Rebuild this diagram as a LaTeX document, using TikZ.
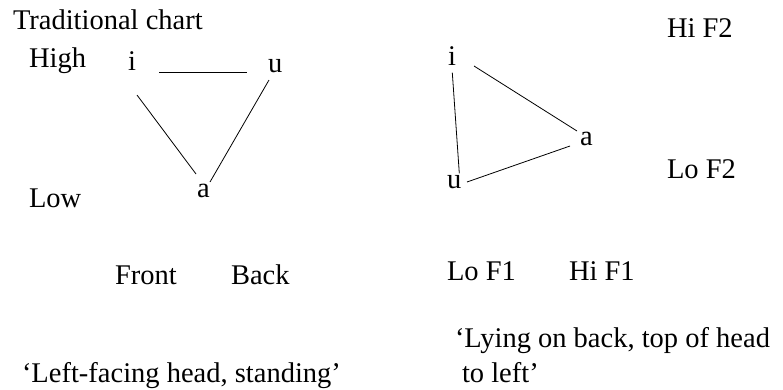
\documentclass[tikz,border=0pt]{standalone}
\usepackage{fontspec}
\setmainfont{Liberation Serif}
\begin{document}
\begin{tikzpicture}[x=1pt,y=-1pt,
  lbl/.style={anchor=base west,inner sep=0pt,outer sep=0pt,font=\fontsize{28.5}{34}\selectfont},
  edge/.style={line width=0.8pt,black}]
\useasboundingbox (0,0) rectangle (783,389);
% left chart
\node[lbl] (title) at (13,29) {Traditional chart};
\node[lbl] (high) at (29,67) {High};
\node[lbl] (li) at (128,70) {i};
\node[lbl] (lu) at (268,72) {u};
\node[lbl] (la) at (197,197) {a};
\node[lbl] (low) at (29,207) {Low};
\node[lbl] (front) at (115,284) {Front};
\node[lbl] (back) at (231,284) {Back};
\node[lbl] (cap1) at (22,382) {‘Left-facing head, standing’};
\coordinate (liu1) at (159,72);
\coordinate (liu2) at (247,72);
\coordinate (lia1) at (137,95);
\coordinate (lia2) at (196,174);
\coordinate (lua1) at (269,80);
\coordinate (lua2) at (210,182);
\draw[edge] (liu1) -- (liu2);
\draw[edge] (lia1) -- (lia2);
\draw[edge] (lua1) -- (lua2);
% right chart
\node[lbl] (hif2) at (667,37) {Hi F2};
\node[lbl] (lof2) at (667,178) {Lo F2};
\node[lbl] (ri) at (448,65) {i};
\node[lbl] (ra) at (580,145) {a};
\node[lbl] (ru) at (447,188) {u};
\node[lbl] (lof1) at (447,280) {Lo F1};
\node[lbl] (hif1) at (569,280) {Hi F1};
\node[lbl] (cap2) at (455,347) {‘Lying on back, top of head};
\node[lbl] (cap2b) at (462,382) {to left’};
\coordinate (ria1) at (474,66);
\coordinate (ria2) at (577,131);
\coordinate (riu1) at (452.3,72.7);
\coordinate (riu2) at (459.3,173.3);
\coordinate (rua1) at (467,182);
\coordinate (rua2) at (570,146);
\draw[edge] (ria1) -- (ria2);
\draw[edge] (riu1) -- (riu2);
\draw[edge] (rua1) -- (rua2);
\end{tikzpicture}
\end{document}
